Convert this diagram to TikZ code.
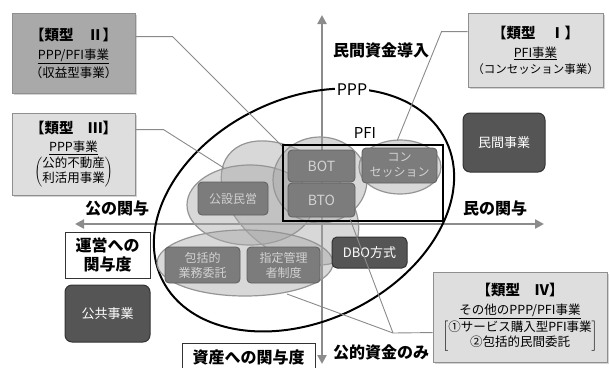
\documentclass[tikz,border=0pt]{standalone}
\usepackage{fontspec}
\setmainfont{Noto Sans CJK JP}
\usetikzlibrary{arrows.meta,shadows,calc}
\definecolor{axisgray}{HTML}{8C8C8C}
\definecolor{conngray}{HTML}{8A8A8A}
\definecolor{ellgray}{HTML}{959595}
\definecolor{ellfill}{HTML}{A8A8A8}
\definecolor{boxfill}{HTML}{7C7C7C}
\definecolor{boxedge}{HTML}{5E5E5E}
\definecolor{boxtext}{HTML}{D2D2D2}
\definecolor{darkfill}{HTML}{555555}
\definecolor{darkedge}{HTML}{333333}
\definecolor{typeII}{HTML}{A9A9A9}
\definecolor{typelight}{HTML}{DEDEDE}
\definecolor{calloutedge}{HTML}{8F8F8F}
\newcommand{\brk}[3]{{\fontsize{12.5}{15}\selectfont$\left#1\begin{tabular}{@{}c@{}}#3\end{tabular}\right#2$}}
\begin{document}
\begin{tikzpicture}[x=1pt,y=-1pt,
  callout/.style={draw=calloutedge, line width=0.9pt, inner sep=0pt, align=center,
    font=\fontsize{12.5}{18}\selectfont,
    drop shadow={shadow xshift=1.8pt,shadow yshift=-1.8pt,opacity=0.35}},
  midbox/.style={draw=boxedge, fill=boxfill, rounded corners=4pt, text=boxtext,
    font=\fontsize{12}{15}\selectfont, align=center, inner sep=0pt, line width=0.8pt},
  darkbox/.style={draw=darkedge, fill=darkfill, rounded corners=7pt, text=white,
    font=\fontsize{13}{15}\selectfont, align=center, inner sep=0pt, line width=1pt},
  whitebox/.style={draw=black!80, fill=white, line width=0.9pt, align=center, inner sep=0pt,
    font=\fontsize{16}{19}\selectfont\bfseries},
  ell/.style={draw=ellgray, fill=ellfill, fill opacity=0.45, line width=1.2pt},
  conn/.style={draw=conngray, line width=0.9pt},
  axis/.style={draw=axisgray, line width=2.6pt,
    {Triangle[length=9pt,width=9pt]}-{Triangle[length=9pt,width=9pt]}},
  lbl/.style={font=\fontsize{16}{18}\selectfont\bfseries, inner sep=1pt}
]
\useasboundingbox (0,0) rectangle (609,367);

% axes
\coordinate (vtop) at (322,15);
\coordinate (vbot) at (322,364);
\coordinate (hleft) at (75,224);
\coordinate (hright) at (544,224);
\draw[axis] (vbot) -- (vtop);
\draw[axis] (hleft) -- (hright);

% big PPP ellipse
\draw[line width=2pt, rotate around={26:(304,210)}] (304,210) ellipse [x radius=158, y radius=111];

% light ellipses
\path[ell, rotate around={-38:(290,203)}] (290,203) ellipse [x radius=78, y radius=50];
\path[ell] (250,205) ellipse [x radius=63, y radius=40];
\path[ell] (320,180) ellipse [x radius=47, y radius=43];
\path[ell] (400,167) ellipse [x radius=41, y radius=27];
\path[ell] (245,263) ellipse [x radius=88, y radius=33];

% PFI rectangle
\node[draw=black, line width=1.8pt, minimum width=160pt, minimum height=76pt, inner sep=0pt] (pfi) at (363,183) {};

% labels
\node[fill=white, inner sep=2pt, font=\fontsize{16}{18}\selectfont] (ppp) at (352,90) {PPP};
\node[font=\fontsize{15}{18}\selectfont, inner sep=1pt] (pfilbl) at (365,133) {PFI};
\node[lbl] (minshikin) at (381,50) {民間資金導入};
\node[lbl] (koshikin) at (381,352) {公的資金のみ};
\node[lbl] (kono) at (117,208) {公の関与};
\node[lbl] (minno) at (495,208) {民の関与};

% inner boxes
\node[midbox, minimum width=70pt, minimum height=33pt] (kosetsu) at (233,198.5) {公設民営};
\node[midbox, minimum width=67pt, minimum height=32pt, font=\fontsize{14}{16}\selectfont] (bot) at (321.5,166) {BOT};
\node[midbox, minimum width=67pt, minimum height=34pt, font=\fontsize{14}{16}\selectfont] (bto) at (321.5,200) {BTO};
\node[midbox, minimum width=75pt, minimum height=35pt] (conc) at (399.5,165.5) {コン\\セッション};
\node[midbox, minimum width=75pt, minimum height=36pt] (hokatsu) at (202.5,265) {包括的\\業務委託};
\node[midbox, minimum width=73pt, minimum height=36pt] (shitei) at (283.5,265) {指定管理\\者制度};
\node[darkbox, minimum width=75pt, minimum height=31pt, rounded corners=5pt] (dbo) at (369.5,252.5) {DBO方式};

\node[darkbox, minimum width=82pt, minimum height=59pt] (minkan) at (504,142.5) {民間事業};
\node[darkbox, minimum width=85pt, minimum height=57pt] (kokyo) at (107.5,313.5) {公共事業};

\node[whitebox, minimum width=85pt, minimum height=46pt] (unei) at (107.5,255) {運営への\\関与度};
\node[whitebox, minimum width=133pt, minimum height=28pt, anchor=north] (shisan) at (248.5,343) {資産への関与度};

% callout boxes
\node[callout, fill=typeII, minimum width=123pt, minimum height=80pt] (t2) at (73.5,53)
  {{\fontsize{14.5}{18}\selectfont\bfseries 【類型　Ⅱ】}\\[1pt]
   \underline{PPP/PFI事業}\\
   （収益型事業）};
\node[callout, fill=typelight, minimum width=123pt, minimum height=82pt] (t3) at (73.5,154)
  {{\fontsize{14.5}{18}\selectfont\bfseries 【類型　Ⅲ】}\\
   \underline{PPP事業}\\[1pt]
   \brk(){公的不動産\\利活用事業}};
\node[callout, fill=typelight, minimum width=135pt, minimum height=74pt] (t1) at (535.5,50)
  {{\fontsize{14.5}{18}\selectfont\bfseries 【類型　Ⅰ】}\\[1pt]
   \underline{PFI事業}\\[-2pt]
   {\fontsize{11.5}{14}\selectfont （コンセッション事業）}};
\node[callout, fill=typelight, minimum width=174pt, minimum height=90pt] (t4) at (520,317)
  {{\fontsize{14.5}{18}\selectfont\bfseries 【類型　Ⅳ】}\\[1pt]
   \underline{その他のPPP/PFI事業}\\[1pt]
   \brk[]{①サービス購入型PFI事業\\②包括的民間委託}};

% callout connectors
\coordinate (c2) at (282,146);
\coordinate (c3) at (224,168);
\coordinate (c1) at (397,141);
\coordinate (j4) at (393,333);
\coordinate (c4a) at (287,294);
\coordinate (c4b) at (350,219);
\draw[conn] ([yshift=-24pt]t2.north east) -- ++(37,0) -- (c2);
\draw[conn] ([yshift=-17pt]t3.north east) -- ++(28,0) -- (c3);
\draw[conn] ([yshift=-19pt]t1.north west) -- ++(-26,0) -- (c1);
\draw[conn] ([yshift=-61pt]t4.north west) -- (j4) -- (c4a);
\draw[conn] (j4) -- (c4b);
\end{tikzpicture}
\end{document}
